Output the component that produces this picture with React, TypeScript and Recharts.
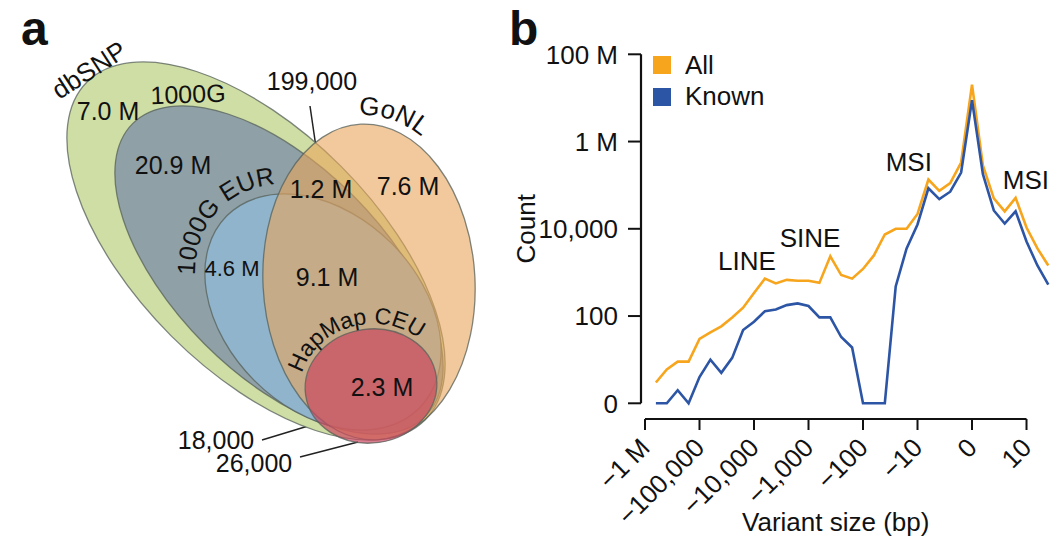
import React from 'react';
import {
  ScatterChart,
  Scatter,
  LineChart,
  Line,
  XAxis,
  YAxis,
  ReferenceLine,
  ReferenceDot,
  Legend,
} from 'recharts';

const FONT = '"Liberation Sans", Arial, Helvetica, sans-serif';
const INK = '#111';

// ---------- panel a: overlap of variant sets ----------
const vennSets = ['dbSNP', '1000G', '1000G EUR', 'GoNL', 'HapMap CEU'];
const vennCounts = ['7.0 M', '20.9 M', '4.6 M', '199,000', '1.2 M', '7.6 M', '9.1 M', '2.3 M', '18,000', '26,000'];

// ellipse geometry in panel units (x right, y down), rotation in degrees
const setShapes = [
  { x: 256, y: 251, rx: 239, ry: 120, angle: 45, fill: '#cfdea5', opacity: 1 },
  { x: 279, y: 270, rx: 207, ry: 105, angle: 45, fill: '#8fa0a6', opacity: 1 },
  { x: 323, y: 312, rx: 136, ry: 97, angle: 45, fill: '#8fb4cc', opacity: 1 },
  { x: 369, y: 282, rx: 106, ry: 158, angle: -3, fill: '#e9a55a', opacity: 0.6 },
  { x: 371, y: 386, rx: 66, ry: 57, angle: -8, fill: '#ca4860', opacity: 0.7 },
];

// where each set name sits: straight text, or text running along the ellipse
const setLabelLayout = [
  { kind: 'straight', x: 89, y: 70, angle: -33, size: 26 },
  { kind: 'straight', x: 188, y: 94, angle: -2, size: 25 },
  { kind: 'arc', t: 177, off: 10, size: 25 },
  { kind: 'arc', t: 286, off: 9, size: 26 },
  { kind: 'arc', t: 261, off: 5, size: 23 },
];

const countLayout = [
  { x: 108, y: 111, size: 25 },
  { x: 173, y: 165, size: 25 },
  { x: 232, y: 268, size: 22 },
  { x: 312, y: 81, size: 25 },
  { x: 321, y: 189, size: 25 },
  { x: 408, y: 186, size: 25 },
  { x: 327, y: 277, size: 25 },
  { x: 382, y: 387, size: 25 },
  { x: 216, y: 440, size: 25 },
  { x: 254, y: 463, size: 25 },
];

const leaders = [
  [{ x: 310, y: 106 }, { x: 317, y: 154 }],
  [{ x: 262, y: 440 }, { x: 318, y: 423 }],
  [{ x: 300, y: 457 }, { x: 358, y: 442 }],
];

const VENN_W = 520;
const VENN_H = 542;
const VENN_X = [0, 520];
const VENN_Y = [0, 542];
const kx = VENN_W / (VENN_X[1] - VENN_X[0]);
const ky = VENN_H / (VENN_Y[1] - VENN_Y[0]);

const ellipseData = setShapes.map((s, i) => ({ ...s, name: vennSets[i], id: i }));
const arcLabelData = setShapes
  .map((s, i) => ({ ...s, name: vennSets[i], id: i, lab: setLabelLayout[i] }))
  .filter((d) => d.lab.kind === 'arc');
const textData = [
  ...setLabelLayout
    .map((l, i) => ({ ...l, text: vennSets[i] }))
    .filter((l) => l.kind === 'straight'),
  ...countLayout.map((p, i) => ({ ...p, angle: 0, text: vennCounts[i] })),
];

const EllipseShape = (props: any) => {
  const { cx, cy, payload } = props;
  return (
    <ellipse
      cx={cx}
      cy={cy}
      rx={payload.rx * kx}
      ry={payload.ry * ky}
      transform={`rotate(${payload.angle} ${cx} ${cy})`}
      fill={payload.fill}
      fillOpacity={payload.opacity}
      stroke="#56605a"
      strokeOpacity={0.75}
      strokeWidth={1.3}
    />
  );
};

// set name written along an ellipse just outside its outline, centred at angle t
const ArcLabel = (props: any) => {
  const { cx, cy, payload } = props;
  const lab = payload.lab;
  const a = payload.rx * kx + lab.off;
  const b = payload.ry * ky + lab.off;
  const rot = (payload.angle * Math.PI) / 180;
  const pts: number[][] = [];
  for (let d = -100; d <= 100; d += 2) {
    const t = ((lab.t + d) * Math.PI) / 180;
    const lx = a * Math.cos(t);
    const ly = b * Math.sin(t);
    pts.push([cx + lx * Math.cos(rot) - ly * Math.sin(rot), cy + lx * Math.sin(rot) + ly * Math.cos(rot)]);
  }
  const mid = Math.floor(pts.length / 2);
  let len = 0;
  for (let i = 1; i <= mid; i++) {
    len += Math.hypot(pts[i][0] - pts[i - 1][0], pts[i][1] - pts[i - 1][1]);
  }
  const id = `set-arc-${payload.id}`;
  const d = 'M' + pts.map((p) => `${p[0].toFixed(1)},${p[1].toFixed(1)}`).join(' L');
  return (
    <g>
      <path id={id} d={d} fill="none" stroke="none" />
      <text fontSize={lab.size} fontFamily={FONT} fill={INK}>
        <textPath href={`#${id}`} startOffset={len.toFixed(1)} textAnchor="middle">
          {payload.name}
        </textPath>
      </text>
    </g>
  );
};

const PlainLabel = (props: any) => {
  const { cx, cy, payload } = props;
  return (
    <text
      x={cx}
      y={cy}
      transform={`rotate(${payload.angle} ${cx} ${cy})`}
      textAnchor="middle"
      dominantBaseline="central"
      fontSize={payload.size}
      fontFamily={FONT}
      fill={INK}
    >
      {payload.text}
    </text>
  );
};

function VennPanel() {
  return (
    <ScatterChart width={VENN_W} height={VENN_H} margin={{ top: 0, right: 0, bottom: 0, left: 0 }}>
      <XAxis type="number" dataKey="x" domain={VENN_X} hide />
      <YAxis type="number" dataKey="y" domain={VENN_Y} reversed hide />
      <Scatter data={ellipseData} shape={EllipseShape} isAnimationActive={false} />
      {leaders.map((seg, i) => (
        <ReferenceLine key={i} segment={seg} stroke="#222" strokeWidth={1.5} />
      ))}
      <Scatter data={arcLabelData} shape={ArcLabel} isAnimationActive={false} />
      <Scatter data={textData} shape={PlainLabel} isAnimationActive={false} />
    </ScatterChart>
  );
}

// ---------- panel b: variant size distribution ----------
// bin position on the axis: 0 = -1 M, 1 = -100,000 ... 6 = 0, 7 = 10
const binPos = [
  0.2, 0.4, 0.6, 0.8, 1.0, 1.2, 1.4, 1.6, 1.8, 2.0, 2.2, 2.4, 2.6, 2.8, 3.0, 3.2, 3.4, 3.6, 3.8,
  4.0, 4.2, 4.4, 4.6, 4.8, 5.0, 5.2, 5.4, 5.6, 5.8, 6.0, 6.2, 6.4, 6.6, 6.8, 7.0, 7.2, 7.4,
];
const allCounts = [
  2, 5, 8, 8, 29, 41, 57, 92, 154, 338, 720, 560, 675, 645, 645, 575, 2340, 870, 720, 1200, 2450,
  7400, 10000, 10000, 21900, 135000, 74000, 112000, 331000, 20000000, 282000, 50000, 25100, 51300,
  10700, 3550, 1440,
];
const knownCounts = [
  0, 0, 1, 0, 3, 9, 4, 10, 47, 73, 128, 140, 177, 194, 169, 92, 92, 32, 18, 0, 0, 0, 478, 3550,
  12600, 85000, 47900, 70800, 195000, 8900000, 178000, 26300, 13200, 25100, 5130, 1440, 524,
];
const seriesNames = ['All', 'Known'];
const seriesColors = ['#f7a51c', '#2d55a5'];
const xTickValues = [0, 1, 2, 3, 4, 5, 6, 7];
const xTickLabels = ['\u22121 M', '\u2212100,000', '\u221210,000', '\u22121,000', '\u2212100', '\u221210', '0', '10'];
// y is plotted as count + 1 on a log axis, so "0" sits at 1
const yTickValues = [1, 100, 10000, 1000000, 100000000];
const yTickLabels = ['0', '100', '10,000', '1 M', '100 M'];
const annotations = [
  { text: 'LINE', x: 1.87, y: 1820 },
  { text: 'SINE', x: 3.03, y: 6030 },
  { text: 'MSI', x: 4.84, y: 339000 },
  { text: 'MSI', x: 6.99, y: 132000 },
];

const lineData = binPos.map((p, i) => ({ pos: p, all: allCounts[i], known: knownCounts[i] }));

const X_MIN = -4 / 54.5;
const X_MAX = 7.431;
const Y_MIN = Math.pow(10, -0.36);

const XTick = (props: any) => {
  const { x, y, payload } = props;
  const label = xTickLabels[xTickValues.indexOf(payload.value)];
  return (
    <text
      x={x}
      y={y}
      transform={`rotate(-45 ${x} ${y})`}
      textAnchor="end"
      dominantBaseline="central"
      fontSize={26}
      fontFamily={FONT}
      fill={INK}
    >
      {label}
    </text>
  );
};

const LegendBox = () => (
  <div style={{ fontFamily: FONT, fontSize: 26, color: INK }}>
    {seriesNames.map((n, i) => (
      <div key={n} style={{ display: 'flex', alignItems: 'center', height: 31.5 }}>
        <span style={{ display: 'inline-block', width: 18, height: 18, background: seriesColors[i], marginRight: 14 }} />
        <span>{n}</span>
      </div>
    ))}
  </div>
);

function SizePanel() {
  return (
    <LineChart width={1050} height={542} data={lineData} margin={{ top: 54.3, right: 0, bottom: 0, left: 500 }}>
      <XAxis
        dataKey="pos"
        type="number"
        domain={[X_MIN, X_MAX]}
        allowDataOverflow
        ticks={xTickValues}
        interval={0}
        axisLine={false}
        tickLine={{ stroke: INK, strokeWidth: 2 }}
        tickSize={11}
        tickMargin={13}
        tick={<XTick />}
        height={123}
      />
      <YAxis
        type="number"
        scale="log"
        domain={[Y_MIN, 100000000]}
        allowDataOverflow
        ticks={yTickValues}
        interval={0}
        tickFormatter={(v: number) => yTickLabels[yTickValues.indexOf(v)]}
        axisLine={false}
        tickLine={{ stroke: INK, strokeWidth: 2 }}
        tickSize={13}
        tickMargin={10}
        tick={{ fontSize: 26, fill: INK, fontFamily: FONT }}
        width={141}
      />
      <ReferenceLine segment={[{ x: 0, y: Y_MIN }, { x: 7, y: Y_MIN }]} stroke={INK} strokeWidth={2.2} />
      <ReferenceLine segment={[{ x: X_MIN, y: 1 }, { x: X_MIN, y: 100000000 }]} stroke={INK} strokeWidth={2.2} />
      <Line
        type="linear"
        dataKey={(d: any) => d.all + 1}
        name={seriesNames[0]}
        stroke={seriesColors[0]}
        strokeWidth={2.6}
        dot={false}
        isAnimationActive={false}
      />
      <Line
        type="linear"
        dataKey={(d: any) => d.known + 1}
        name={seriesNames[1]}
        stroke={seriesColors[1]}
        strokeWidth={2.6}
        dot={false}
        isAnimationActive={false}
      />
      {annotations.map((a, i) => (
        <ReferenceDot
          key={i}
          x={a.x}
          y={a.y}
          r={1}
          shape={(p: any) => (
            <text x={p.cx} y={p.cy} textAnchor="middle" dominantBaseline="central" fontSize={26} fontFamily={FONT} fill={INK}>
              {a.text}
            </text>
          )}
        />
      ))}
      <ReferenceDot
        x={0}
        y={10000}
        r={1}
        shape={(p: any) => (
          <text
            x={p.cx - 119}
            y={p.cy}
            transform={`rotate(-90 ${p.cx - 119} ${p.cy})`}
            textAnchor="middle"
            dominantBaseline="central"
            fontSize={26}
            fontFamily={FONT}
            fill={INK}
          >
            Count
          </text>
        )}
      />
      <ReferenceDot
        x={3.5}
        y={1}
        r={1}
        shape={(p: any) => (
          <text x={p.cx} y={p.cy + 118.7} textAnchor="middle" dominantBaseline="central" fontSize={26} fontFamily={FONT} fill={INK}>
            Variant size (bp)
          </text>
        )}
      />
      <Legend
        layout="vertical"
        align="center"
        verticalAlign="middle"
        content={<LegendBox />}
        wrapperStyle={{ left: 653, top: 49.5, width: 200, height: 63 }}
      />
    </LineChart>
  );
}

export default function App() {
  return (
    <div style={{ position: 'absolute', left: 0, top: 0, width: 1050, height: 542, background: '#fff' }}>
      <div style={{ position: 'absolute', left: 0, top: 0 }}>
        <VennPanel />
      </div>
      <div style={{ position: 'absolute', left: 0, top: 0 }}>
        <SizePanel />
      </div>
      <svg width={1050} height={542} style={{ position: 'absolute', left: 0, top: 0, pointerEvents: 'none' }}>
        <text x={21} y={45} fontSize={48} fontWeight="bold" fontFamily={FONT} fill={INK}>a</text>
        <text x={509} y={45} fontSize={48} fontWeight="bold" fontFamily={FONT} fill={INK}>b</text>
      </svg>
    </div>
  );
}
